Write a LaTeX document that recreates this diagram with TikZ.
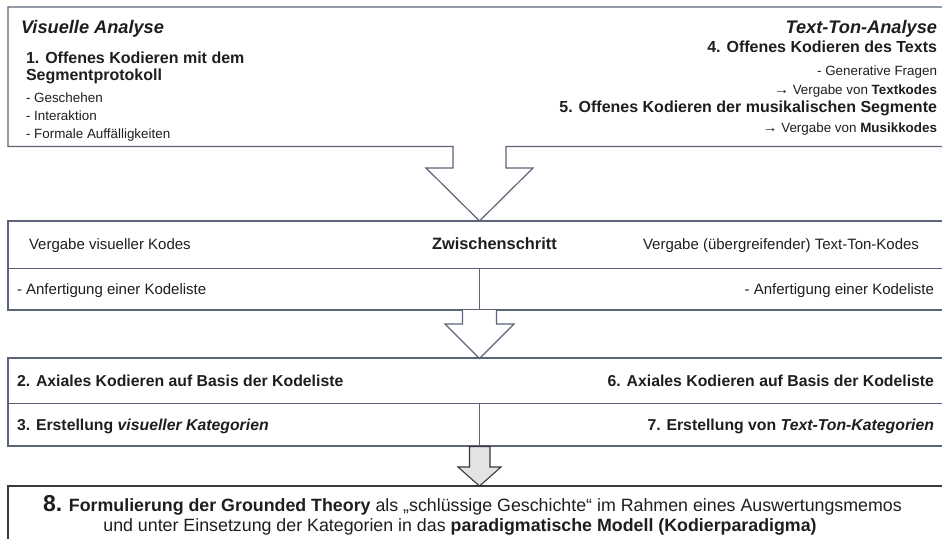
\documentclass[tikz,border=0pt]{standalone}
\usepackage{fontspec}
\setmainfont{Liberation Sans}
\definecolor{frame}{HTML}{5B6577}
\definecolor{ink}{HTML}{1E1E1E}
\definecolor{darkframe}{HTML}{3A3A3A}
\definecolor{arrowfill}{HTML}{E3E3E3}
\newcommand{\fsz}[1]{\fontsize{#1}{#1}\selectfont}
\newcommand{\rarr}{{\fsz{15}→}}
\begin{document}
\begin{tikzpicture}[x=1pt,y=-1pt,
  frameline/.style={draw=frame,line width=1.2pt,line join=miter},
  lbl/.style={inner sep=0pt,outer sep=0pt,text=ink},
  item/.style={lbl,font=\fsz{13.4}},
  head/.style={lbl,font=\bfseries\fsz{16}},
  titletxt/.style={lbl,font=\bfseries\itshape\fsz{18.2}},
  mid/.style={lbl,font=\fsz{15}},
  lower/.style={lbl,font=\bfseries\fsz{15.8}},
  bottomtxt/.style={lbl,font=\fsz{17.8}}
]
\useasboundingbox (0,0) rectangle (942,538);
\clip (0,0) rectangle (942,538);

% top box with big open arrow
\draw[frameline] (950,7) -- (8,7) -- (8,146.5) -- (453,146.5) -- (453,168) -- (426,168)
  -- (479.5,221) -- (533,168) -- (506,168) -- (506,146.5) -- (950,146.5);

% middle box
\draw[frameline] (950,221) -- (8,221) -- (8,310) -- (950,310);
\draw[frameline] (8,268.5) -- (950,268.5);
\draw[frameline] (479.5,268.5) -- (479.5,310);

% second open arrow
\draw[frameline,fill=white] (462.5,310) -- (462.5,324) -- (445,324) -- (479.5,358.5)
  -- (514,324) -- (496.5,324) -- (496.5,310);

% third box
\draw[frameline] (950,358) -- (8,358) -- (8,446) -- (950,446);
\draw[frameline] (8,403.5) -- (950,403.5);
\draw[frameline] (479.5,403.5) -- (479.5,446);

% grey arrow
\draw[draw=darkframe,line width=1.1pt,fill=arrowfill,line join=miter]
  (469.5,446.5) -- (469.5,467) -- (458,467) -- (479.5,486) -- (501,467) -- (490,467) -- (490,446.5) -- cycle;

% bottom box
\draw[draw=darkframe,line width=1.3pt] (950,486) -- (8,486) -- (8,560);

% texts top left
\node[titletxt,anchor=base west] (tva) at (21,33) {Visuelle Analyse};
\node[head,anchor=base west] (s1a) at (26,63.5) {1. Offenes Kodieren mit dem};
\node[head,anchor=base west] (s1b) at (26,80) {Segmentprotokoll};
\node[item,anchor=base west] (i1) at (26,102) {- Geschehen};
\node[item,anchor=base west] (i2) at (26,120.5) {- Interaktion};
\node[item,anchor=base west] (i3) at (26,138.5) {- Formale Auffälligkeiten};

% texts top right
\node[titletxt,anchor=base east] (tta) at (937,33) {Text-Ton-Analyse};
\node[head,anchor=base east] (s4) at (937,52.5) {4. Offenes Kodieren des Texts};
\node[item,anchor=base east] (i4) at (937,75) {- Generative Fragen};
\node[item,anchor=base east] (i5) at (937,94) {\rarr\ Vergabe von \textbf{Textkodes}};
\node[head,anchor=base east] (s5) at (937,112) {5. Offenes Kodieren der musikalischen Segmente};
\node[item,anchor=base east] (i6) at (937,132) {\rarr\ Vergabe von \textbf{Musikkodes}};

% middle texts
\node[mid,anchor=base west] (m1) at (29,249.5) {Vergabe visueller Kodes};
\node[lbl,font=\bfseries\fsz{16.4},anchor=base west] (m2) at (432,249.5) {Zwischenschritt};
\node[mid,anchor=base east] (m3) at (919,249.5) {Vergabe (übergreifender) Text-Ton-Kodes};
\node[mid,anchor=base west] (m4) at (17,294) {- Anfertigung einer Kodeliste};
\node[mid,anchor=base east] (m5) at (934,294) {- Anfertigung einer Kodeliste};

% third box texts
\node[lower,anchor=base west] (l1) at (17,386.5) {2. Axiales Kodieren auf Basis der Kodeliste};
\node[lower,anchor=base east] (l2) at (934,386.5) {6. Axiales Kodieren auf Basis der Kodeliste};
\node[lower,anchor=base west] (l3) at (17,430.5) {3. Erstellung \textit{visueller Kategorien}};
\node[lower,anchor=base east] (l4) at (934,430.5) {7. Erstellung von \textit{Text-Ton-Kategorien}};

% bottom texts
\node[bottomtxt,anchor=base] (b1) at (472.5,511) {\textbf{{\fsz{23}8.} Formulierung der Grounded Theory} als „schlüssige Geschichte“ im Rahmen eines Auswertungsmemos};
\node[bottomtxt,anchor=base] (b2) at (460,531) {und unter Einsetzung der Kategorien in das \textbf{paradigmatische Modell (Kodierparadigma)}};
\end{tikzpicture}
\end{document}
